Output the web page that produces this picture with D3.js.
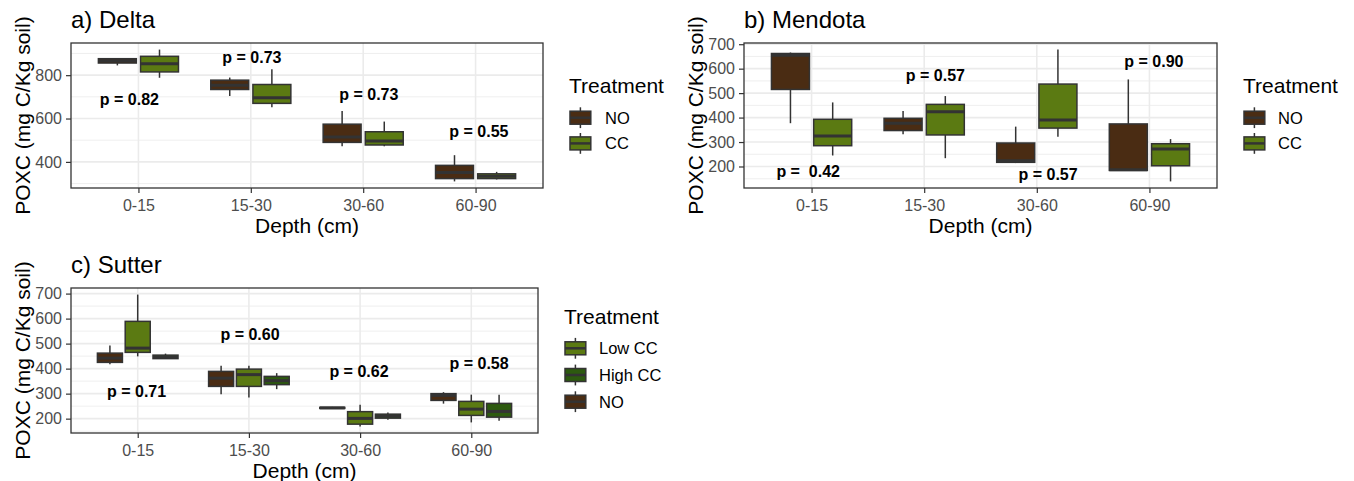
<!DOCTYPE html>
<html>
<head>
<meta charset="utf-8">
<script src="https://cdn.jsdelivr.net/npm/d3@7"></script>
<style>
  html, body { margin: 0; padding: 0; background: #fff; }
  svg { display: block; font-family: "Liberation Sans", Arial, sans-serif; }
</style>
</head>
<body>
<svg id="chart" width="1354" height="481"></svg>
<script>
// Depth classes shared by every site
const depths = ["0-15", "15-30", "30-60", "60-90"];

// Box summaries per depth: [lower whisker, Q1, median, Q3, upper whisker] (mg C/Kg soil)
const deltaNO = [[845, 856, 866, 876, 878], [704, 734, 754, 777, 789], [472, 490, 515, 574, 635], [310, 323, 351, 384, 431]];
const deltaCC = [[788, 815, 853, 887, 918], [652, 670, 696, 757, 827], [472, 478, 496, 539, 586], [319, 323, 334, 345, 354]];

const mendotaNO = [[377, 515, 655, 662, 666], [332, 347, 377, 397, 427], [214, 217, 223, 296, 363], [184, 184, 187, 374, 556]];
const mendotaCC = [[245, 285, 325, 393, 462], [234, 329, 424, 454, 488], [322, 357, 390, 537, 678], [139, 203, 272, 293, 312]];

const sutterNO = [[418, 425, 442, 462, 492], [298, 329, 362, 389, 412], [240, 241, 243, 245, 247], [260, 273, 293, 300, 306]];
const sutterLowCC = [[449, 465, 482, 589, 696], [285, 329, 376, 398, 412], [169, 178, 201, 228, 256], [185, 213, 238, 269, 296]];
const sutterHighCC = [[440, 440, 446, 454, 460], [318, 336, 352, 369, 382], [196, 202, 210, 218, 225], [192, 206, 229, 261, 296]];

// p-value annotations: text, x in depth units (1 = first depth), y in data units
const deltaP = ["p = 0.82", "p = 0.73", "p = 0.73", "p = 0.55"];
const deltaPX = [0.92, 2.01, 3.05, 4.03];
const deltaPY = [690, 882, 713, 540];

const mendotaP = ["p =  0.42", "p = 0.57", "p = 0.57", "p = 0.90"];
const mendotaPX = [0.97, 2.1, 3.1, 4.04];
const mendotaPY = [180, 574, 166, 628];

const sutterP = ["p = 0.71", "p = 0.60", "p = 0.62", "p = 0.58"];
const sutterPX = [0.99, 2.01, 2.99, 4.07];
const sutterPY = [309, 536, 389, 422];

// Axis ticks
const deltaTicks = [400, 600, 800];
const deltaMinor = [300, 500, 700, 900];
const hundredTicks = [200, 300, 400, 500, 600, 700];
const hundredMinor = [150, 250, 350, 450, 550, 650];

// Treatment colours
const colNO = "#4a2c13";
const colCC = "#5b7a12";
const colHigh = "#2d5a0f";
const outline = "#333333";
const gridCol = "#ebebeb";

const svg = d3.select("#chart");

function drawPanel(cfg) {
  const g = svg.append("g");
  const { left, right, top, bottom } = cfg;

  // y domain from data range with 5% padding on each side
  const all = cfg.groups.flatMap(s => s.data.flat());
  const [lo, hi] = d3.extent(all);
  const pad = (hi - lo) * 0.05;
  const y = d3.scaleLinear().domain([lo - pad, hi + pad]).range([bottom, top]);
  const x = d3.scaleLinear().domain([0.4, depths.length + 0.6]).range([left, right]);
  const step = x(2) - x(1);

  // panel background and grid
  g.append("rect").attr("x", left).attr("y", top).attr("width", right - left).attr("height", bottom - top).attr("fill", "#fff");
  g.selectAll(".minor").data(cfg.minor.filter(v => y(v) > top && y(v) < bottom)).join("line")
    .attr("x1", left).attr("x2", right).attr("y1", d => y(d)).attr("y2", d => y(d))
    .attr("stroke", gridCol).attr("stroke-width", 0.8);
  g.selectAll(".major").data(cfg.ticks).join("line")
    .attr("x1", left).attr("x2", right).attr("y1", d => y(d)).attr("y2", d => y(d))
    .attr("stroke", gridCol).attr("stroke-width", 1.6);
  g.selectAll(".vgrid").data(depths).join("line")
    .attr("x1", (d, i) => x(i + 1)).attr("x2", (d, i) => x(i + 1)).attr("y1", top).attr("y2", bottom)
    .attr("stroke", gridCol).attr("stroke-width", 1.6);

  // dodged boxplots
  const n = cfg.groups.length;
  const dodge = 0.75 / n;
  const bw = dodge * 0.9 * step;
  cfg.groups.forEach((s, gi) => {
    const off = (gi - (n - 1) / 2) * dodge;
    s.data.forEach((b, di) => {
      const cx = x(di + 1 + off);
      const [wl, q1, med, q3, wh] = b;
      g.append("line").attr("x1", cx).attr("x2", cx).attr("y1", y(wh)).attr("y2", y(q3))
        .attr("stroke", outline).attr("stroke-width", 1.5);
      g.append("line").attr("x1", cx).attr("x2", cx).attr("y1", y(q1)).attr("y2", y(wl))
        .attr("stroke", outline).attr("stroke-width", 1.5);
      g.append("rect").attr("x", cx - bw / 2).attr("width", bw)
        .attr("y", y(q3)).attr("height", Math.max(y(q1) - y(q3), 0.5))
        .attr("fill", s.color).attr("stroke", outline).attr("stroke-width", 1.5);
      g.append("line").attr("x1", cx - bw / 2).attr("x2", cx + bw / 2).attr("y1", y(med)).attr("y2", y(med))
        .attr("stroke", outline).attr("stroke-width", 3);
    });
  });

  // p-value labels
  cfg.pText.forEach((t, i) => {
    g.append("text").attr("x", x(cfg.pX[i])).attr("y", y(cfg.pY[i]))
      .attr("text-anchor", "middle").attr("dominant-baseline", "central")
      .attr("font-size", 16).attr("font-weight", "bold").attr("fill", "#000")
      .style("white-space", "pre").text(t);
  });

  // panel border
  g.append("rect").attr("x", left).attr("y", top).attr("width", right - left).attr("height", bottom - top)
    .attr("fill", "none").attr("stroke", outline).attr("stroke-width", 1.3);

  // axes
  const yAxis = g.append("g").attr("transform", `translate(${left},0)`)
    .call(d3.axisLeft(y).tickValues(cfg.ticks).tickSize(5).tickPadding(4).tickFormat(d3.format("d")));
  const xAxis = g.append("g").attr("transform", `translate(0,${bottom})`)
    .call(d3.axisBottom(x).tickValues(depths.map((d, i) => i + 1)).tickSize(5).tickPadding(7).tickFormat(v => depths[v - 1]));
  [yAxis, xAxis].forEach(a => {
    a.select(".domain").remove();
    a.selectAll(".tick line").attr("stroke", outline).attr("stroke-width", 1.2);
    a.selectAll(".tick text").attr("fill", "#4d4d4d").attr("font-size", 16)
      .attr("font-family", '"Liberation Sans", Arial, sans-serif');
  });

  // titles
  g.append("text").attr("x", left).attr("y", top - 15).attr("font-size", 24).attr("fill", "#000").text(cfg.title);
  g.append("text").attr("x", (left + right) / 2).attr("y", bottom + 45).attr("text-anchor", "middle")
    .attr("font-size", 21).attr("fill", "#000").text("Depth (cm)");
  g.append("text").attr("transform", `translate(${cfg.yTitleX},${(top + bottom) / 2}) rotate(-90)`)
    .attr("text-anchor", "middle").attr("font-size", 21).attr("fill", "#000").text("POXC (mg C/Kg soil)");

  // legend
  const L = cfg.legend;
  g.append("text").attr("x", L.x).attr("y", L.titleY).attr("font-size", 21).attr("fill", "#000").text("Treatment");
  L.items.forEach((it, i) => {
    const cy = L.firstY + i * L.gap;
    const kx = L.x + 1;
    const kw = 20.8, kh = 13;
    const kg = g.append("g");
    kg.append("line").attr("x1", kx + kw / 2).attr("x2", kx + kw / 2).attr("y1", cy - 10.4).attr("y2", cy + 10.4)
      .attr("stroke", outline).attr("stroke-width", 1.5);
    kg.append("rect").attr("x", kx).attr("y", cy - kh / 2).attr("width", kw).attr("height", kh)
      .attr("fill", it.color).attr("stroke", outline).attr("stroke-width", 1.5);
    kg.append("line").attr("x1", kx).attr("x2", kx + kw).attr("y1", cy).attr("y2", cy)
      .attr("stroke", outline).attr("stroke-width", 2.5);
    g.append("text").attr("x", L.labelX).attr("y", cy).attr("dominant-baseline", "central")
      .attr("font-size", 16.5).attr("fill", "#000").text(it.name);
  });
}

drawPanel({
  left: 71, right: 543, top: 43, bottom: 188, yTitleX: 30,
  title: "a) Delta",
  groups: [{ name: "NO", color: colNO, data: deltaNO }, { name: "CC", color: colCC, data: deltaCC }],
  ticks: deltaTicks, minor: deltaMinor,
  pText: deltaP, pX: deltaPX, pY: deltaPY,
  legend: { x: 569, titleY: 93, labelX: 605, firstY: 117.7, gap: 25.7,
            items: [{ name: "NO", color: colNO }, { name: "CC", color: colCC }] }
});

drawPanel({
  left: 744, right: 1217, top: 43, bottom: 188, yTitleX: 703,
  title: "b) Mendota",
  groups: [{ name: "NO", color: colNO, data: mendotaNO }, { name: "CC", color: colCC, data: mendotaCC }],
  ticks: hundredTicks, minor: hundredMinor,
  pText: mendotaP, pX: mendotaPX, pY: mendotaPY,
  legend: { x: 1243, titleY: 93, labelX: 1278, firstY: 117.7, gap: 25.7,
            items: [{ name: "NO", color: colNO }, { name: "CC", color: colCC }] }
});

drawPanel({
  left: 71, right: 538, top: 288, bottom: 433, yTitleX: 30,
  title: "c) Sutter",
  groups: [{ name: "NO", color: colNO, data: sutterNO }, { name: "Low CC", color: colCC, data: sutterLowCC },
           { name: "High CC", color: colHigh, data: sutterHighCC }],
  ticks: hundredTicks, minor: hundredMinor,
  pText: sutterP, pX: sutterPX, pY: sutterPY,
  legend: { x: 564, titleY: 324, labelX: 599, firstY: 348.3, gap: 26.7,
            items: [{ name: "Low CC", color: colCC }, { name: "High CC", color: colHigh }, { name: "NO", color: colNO }] }
});
</script>
</body>
</html>
